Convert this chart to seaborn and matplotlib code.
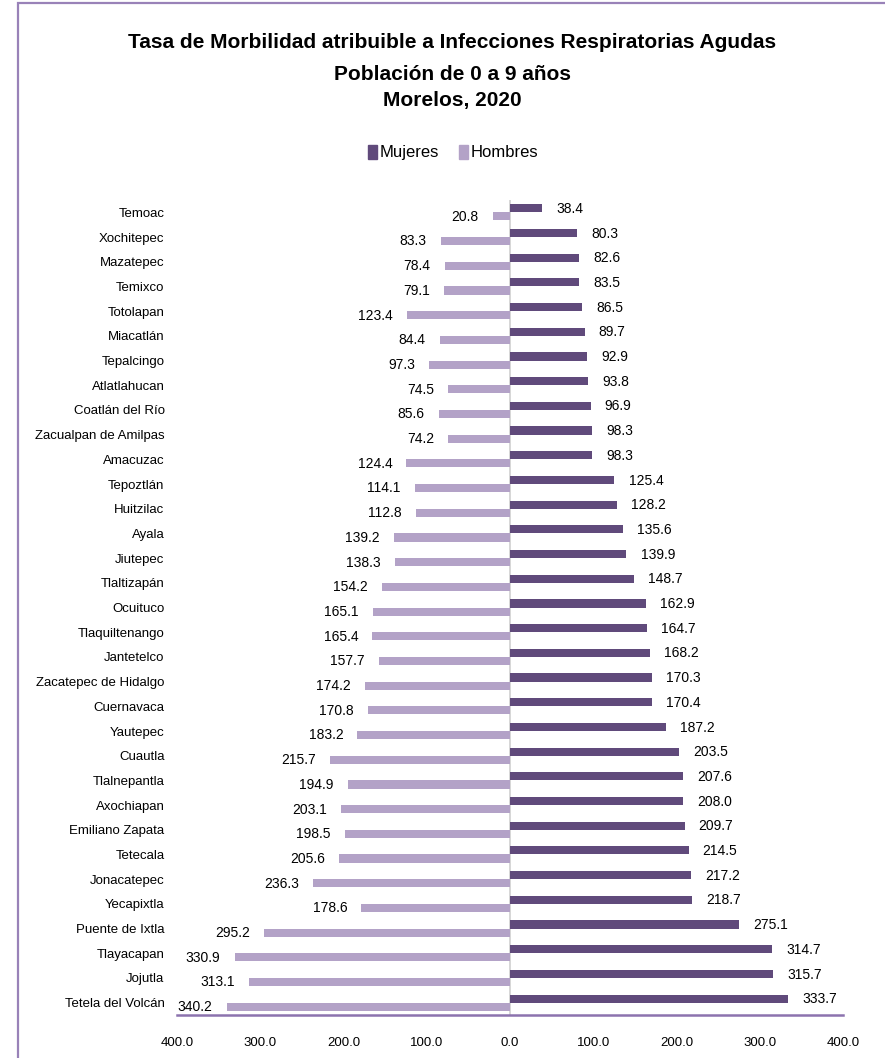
import matplotlib
matplotlib.use("Agg")
import matplotlib.pyplot as plt
from matplotlib.patches import Rectangle
import seaborn as sns
import pandas as pd

municipios = ["Temoac", "Xochitepec", "Mazatepec", "Temixco", "Totolapan", "Miacatlán",
              "Tepalcingo", "Atlatlahucan", "Coatlán del Río", "Zacualpan de Amilpas",
              "Amacuzac", "Tepoztlán", "Huitzilac", "Ayala", "Jiutepec", "Tlaltizapán",
              "Ocuituco", "Tlaquiltenango", "Jantetelco", "Zacatepec de Hidalgo",
              "Cuernavaca", "Yautepec", "Cuautla", "Tlalnepantla", "Axochiapan",
              "Emiliano Zapata", "Tetecala", "Jonacatepec", "Yecapixtla",
              "Puente de Ixtla", "Tlayacapan", "Jojutla", "Tetela del Volcán"]
mujeres = [38.4, 80.3, 82.6, 83.5, 86.5, 89.7, 92.9, 93.8, 96.9, 98.3, 98.3, 125.4,
           128.2, 135.6, 139.9, 148.7, 162.9, 164.7, 168.2, 170.3, 170.4, 187.2, 203.5,
           207.6, 208.0, 209.7, 214.5, 217.2, 218.7, 275.1, 314.7, 315.7, 333.7]
hombres = [20.8, 83.3, 78.4, 79.1, 123.4, 84.4, 97.3, 74.5, 85.6, 74.2, 124.4, 114.1,
           112.8, 139.2, 138.3, 154.2, 165.1, 165.4, 157.7, 174.2, 170.8, 183.2, 215.7,
           194.9, 203.1, 198.5, 205.6, 236.3, 178.6, 295.2, 330.9, 313.1, 340.2]
ticks = [-400, -300, -200, -100, 0, 100, 200, 300, 400]

c_muj = "#604a7b"
c_hom = "#b3a2c7"

sns.set_style("white")
plt.rcParams["font.family"] = ["Liberation Sans", "DejaVu Sans"]
plt.rcParams["text.color"] = "black"
plt.rcParams["xtick.color"] = "black"
plt.rcParams["ytick.color"] = "black"

df = pd.DataFrame({
    "municipio": municipios * 2,
    "valor": mujeres + [-h for h in hombres],
    "sexo": ["Mujeres"] * len(municipios) + ["Hombres"] * len(municipios),
})

fig = plt.figure(figsize=(8.85, 10.58), dpi=100)
ax = fig.add_axes([0.2, 0.0406, 0.7525, 0.7704])

sns.barplot(data=df, x="valor", y="municipio", hue="sexo", hue_order=["Mujeres", "Hombres"],
            palette=[c_muj, c_hom], order=municipios, orient="h", width=0.66,
            saturation=1, gap=0, ax=ax, legend=False, linewidth=0)

ax.set_xlim(-400, 400)
ax.set_ylim(len(municipios) - 0.5, -0.5)
ax.set_xticks(ticks)
ax.set_xticklabels([f"{abs(t):.1f}" for t in ticks], fontsize=9.5)
ax.tick_params(axis="x", length=0, pad=16)
ax.tick_params(axis="y", length=0, pad=9, labelsize=9.5)
ax.set_xlabel("")
ax.set_ylabel("")
for s in ["top", "right", "left"]:
    ax.spines[s].set_visible(False)
ax.spines["bottom"].set_color("#8c73ae")
ax.spines["bottom"].set_linewidth(1.8)
ax.axvline(0, color="#d0d0d0", lw=1.2, zorder=0)

for i, (m, h) in enumerate(zip(mujeres, hombres)):
    ax.text(m + 17, i - 0.14, f"{m:.1f}", va="center", ha="left", fontsize=10)
    ax.text(-h - 17, i + 0.18, f"{h:.1f}", va="center", ha="right", fontsize=10)

fig.text(0.511, 0.960, "Tasa de Morbilidad atribuible a Infecciones Respiratorias Agudas",
         ha="center", va="center", fontsize=15, fontweight="bold")
fig.text(0.511, 0.930, "Población de 0 a 9 años", ha="center", va="center",
         fontsize=15, fontweight="bold")
fig.text(0.511, 0.905, "Morelos, 2020", ha="center", va="center",
         fontsize=15, fontweight="bold")

fig.patches.append(Rectangle((0.416, 0.850), 0.0100, 0.0125, transform=fig.transFigure,
                             color=c_muj))
fig.text(0.429, 0.856, "Mujeres", ha="left", va="center", fontsize=12)
fig.patches.append(Rectangle((0.519, 0.850), 0.0100, 0.0125, transform=fig.transFigure,
                             color=c_hom))
fig.text(0.532, 0.856, "Hombres", ha="left", va="center", fontsize=12)

fig.patches.append(Rectangle((18 / 885, -0.1), 1.2, 1.1 - 2.5 / 1058, transform=fig.transFigure,
                             fill=False, edgecolor="#9982b8", lw=1.6))

fig.savefig("out.png", dpi=100)
